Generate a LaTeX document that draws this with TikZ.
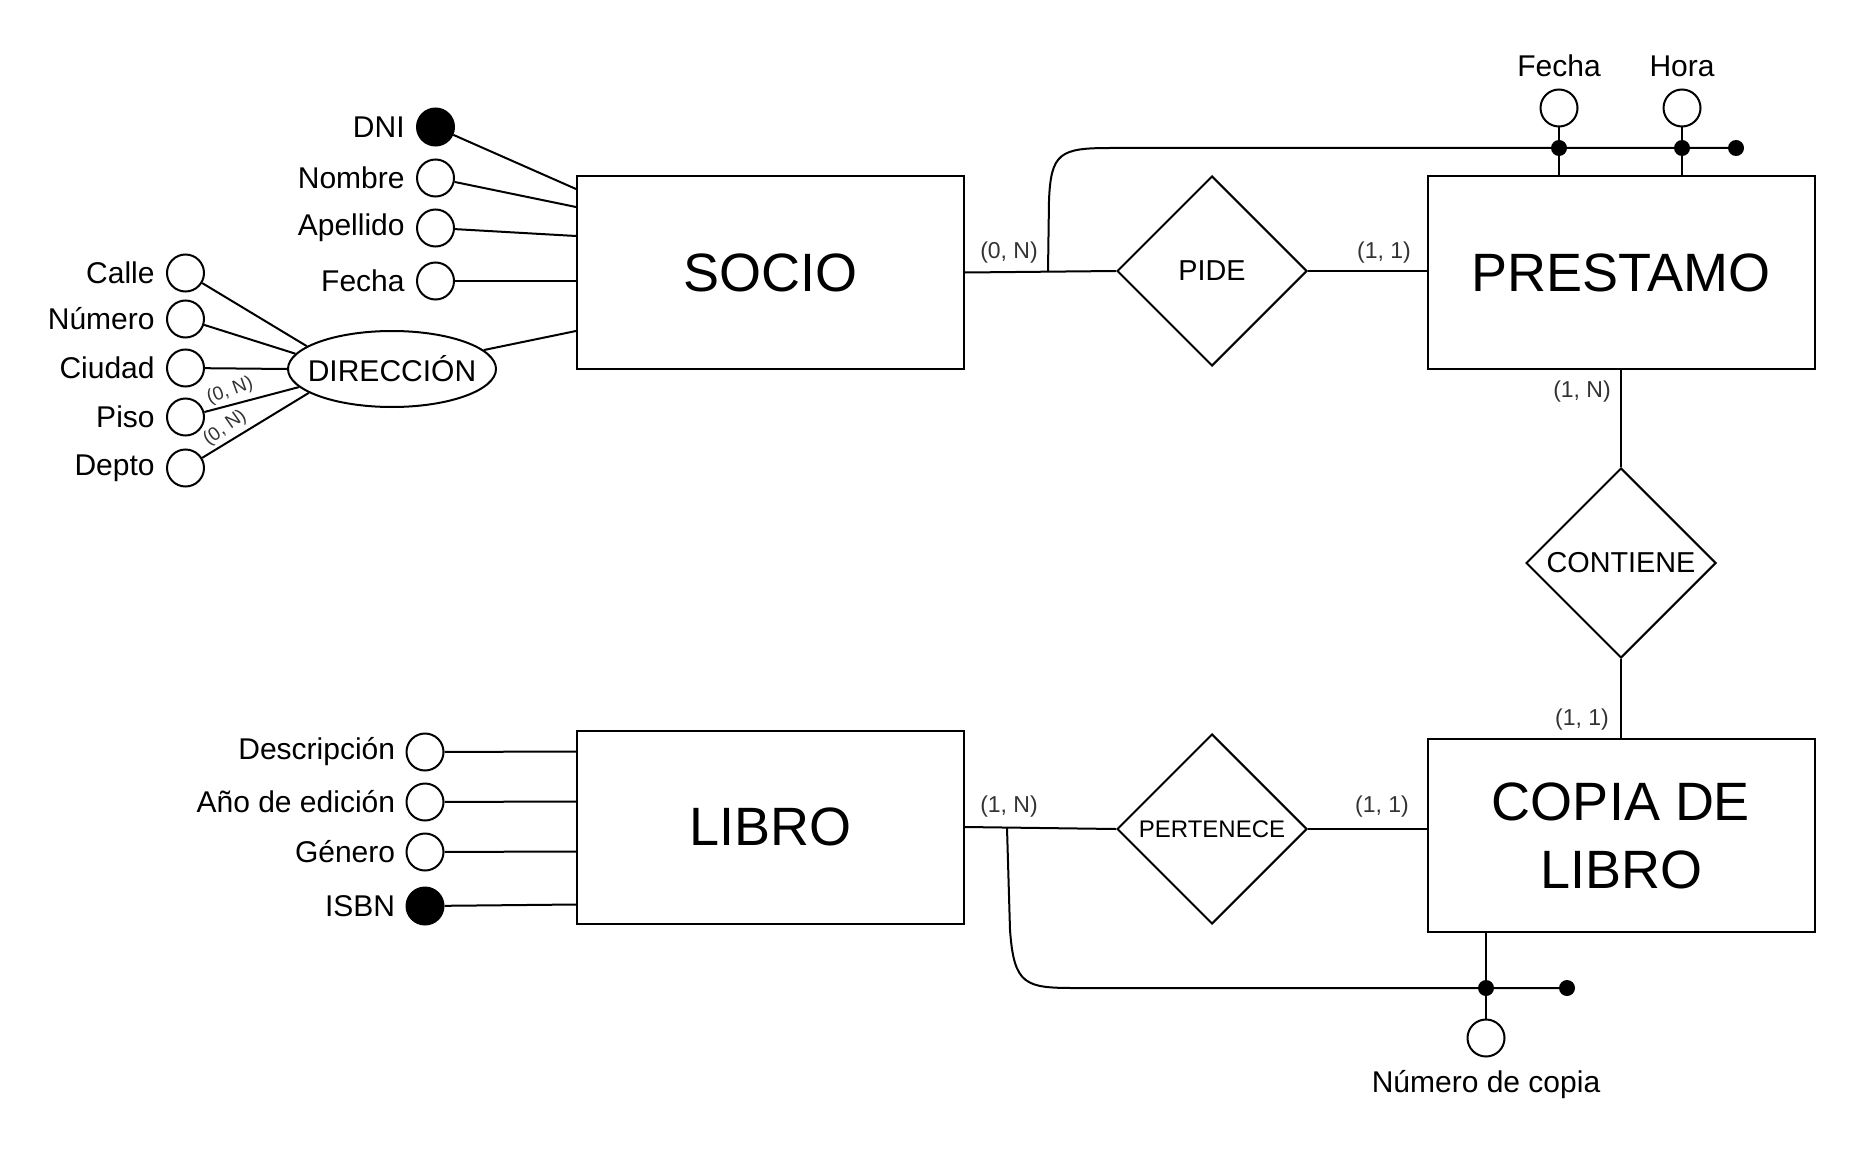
\documentclass[tikz,border=0pt]{standalone}
\usepackage{fontspec}
\setmainfont{Liberation Sans}
\usetikzlibrary{calc,positioning,shapes.geometric}
\tikzset{
  entity/.style={draw, line width=1pt, minimum width=193.5pt, minimum height=96.5pt,
    inner sep=0pt, align=center, font=\fontsize{27}{34}\selectfont},
  rel/.style={diamond, draw, line width=1pt, aspect=1, minimum width=95pt,
    minimum height=95pt, inner sep=0pt, font=\fontsize{14.4}{17}\selectfont},
  attr/.style={circle, draw, line width=1pt, minimum size=18.5pt, inner sep=0pt},
  keyattr/.style={attr, fill=black},
  dot/.style={circle, fill=black, minimum size=8pt, inner sep=0pt},
  compo/.style={ellipse, draw, line width=1pt, minimum width=104pt, minimum height=38pt, inner sep=0pt},
  lbl/.style={inner sep=0pt, font=\fontsize{15}{18}\selectfont},
  card/.style={inner sep=0pt, text=black!80, font=\fontsize{11.5}{14}\selectfont},
  smallcard/.style={inner sep=0pt, text=black!80, font=\fontsize{9.5}{11}\selectfont},
  link/.style={line width=1pt}
}

\begin{document}
\begin{tikzpicture}[x=0.5pt,y=-0.5pt]
\useasboundingbox (0,0) rectangle (1866,1150);
% entities and relationships
\node[entity] (socio) at (770.5,272.5) {SOCIO};
\node[entity] (prestamo) at (1621,272.5) {PRESTAMO};
\node[entity] (libro) at (770.5,827) {LIBRO};
\node[entity] (copia) at (1621,835.5) {COPIA DE\\LIBRO};
\node[rel] (pide) at (1212,271) {PIDE};
\node[rel] (contiene) at (1621,563) {CONTIENE};
\node[rel, font=\fontsize{12}{14}\selectfont] (pertenece) at (1212,829) {PERTENECE};
\draw[link] (socio.east) -- (pide.west);
\draw[link] (pide.east) -- (pide.east -| prestamo.west);
\draw[link] (prestamo.south) -- (contiene.north);
\draw[link] (contiene.south) -- (copia.north);
\draw[link] (libro.east) -- (pertenece.west);
\draw[link] (pertenece.east) -- (pertenece.east -| copia.west);
% cardinalities
\node[card] (cpide1) at (1009,253) {(0, N)};
\node[card] (cpide2) at (1384,253) {(1, 1)};
\node[card] (ccont1) at (1582,392) {(1, N)};
\node[card] (ccont2) at (1582,720) {(1, 1)};
\node[card] (cpert1) at (1009,807) {(1, N)};
\node[card] (cpert2) at (1382,807) {(1, 1)};

% SOCIO attributes
\node[keyattr] (dni) at (435.5,127) {};
\node[attr] (nombre) at (435.5,178) {};
\node[attr] (apellido) at (435.5,228) {};
\node[attr] (fechas) at (435.5,281) {};
\node[lbl, left=5.5pt of dni] (tdni) {DNI};
\node[lbl, left=5.5pt of nombre] (tnombre) {Nombre};
\node[lbl, left=5.5pt of apellido] (tapellido) {Apellido};
\node[lbl, left=5.5pt of fechas] (tfechas) {Fecha};
\draw[link] (dni) -- ($(socio.north west)+(0,14)$);
\draw[link] (nombre) -- ($(socio.north west)+(0,32)$);
\draw[link] (apellido) -- ($(socio.north west)+(0,61)$);
\draw[link] (fechas) -- (fechas -| socio.west);

% composite attribute
\node[compo, label={[lbl]center:DIRECCIÓN}] (dir) at (392,369) {};
\draw[link] (dir) -- ($(socio.north west)+(0,156)$);
\node[attr] (calle) at (185.5,273) {};
\node[attr] (numero) at (185.5,319) {};
\node[attr] (ciudad) at (185.5,368) {};
\node[attr] (piso) at (185.5,417) {};
\node[attr] (depto) at (185.5,468) {};
\node[lbl, left=5.5pt of calle] (tcalle) {Calle};
\node[lbl, left=5.5pt of numero] (tnumero) {Número};
\node[lbl, left=5.5pt of ciudad] (tciudad) {Ciudad};
\node[lbl, left=5.5pt of piso] (tpiso) {Piso};
\node[lbl, left=5.5pt of depto] (tdepto) {Depto};
\draw[link] (calle) -- (dir.165);
\draw[link] (numero) -- (dir.171);
\draw[link] (ciudad) -- (dir.180);
\draw[link] (piso) -- (dir.191);
\draw[link] (depto) -- (dir.196);
\node[smallcard, rotate=20] (cpiso) at (230,391) {(0, N)};
\node[smallcard, rotate=35] (cdepto) at (225,428) {(0, N)};

% LIBRO attributes
\node[attr] (desc) at (425,752) {};
\node[attr] (anio) at (425,802) {};
\node[attr] (genero) at (425,852) {};
\node[keyattr] (isbn) at (425,906) {};
\node[lbl, left=5pt of desc] (tdesc) {Descripción};
\node[lbl, left=5pt of anio] (tanio) {Año de edición};
\node[lbl, left=5pt of genero] (tgenero) {Género};
\node[lbl, left=5pt of isbn] (tisbn) {ISBN};
\draw[link] (desc) -- ($(libro.north west)+(0,22)$);
\draw[link] (anio) -- ($(libro.north west)+(0,72)$);
\draw[link] (genero) -- ($(libro.north west)+(0,122)$);
\draw[link] (isbn) -- ($(libro.north west)+(0,175)$);

% attributes of PIDE
\coordinate (jn1) at (1048,271);
\node[attr] (fechap) at (1559,108) {};
\node[attr] (hora) at (1682,108) {};
\node[lbl, above=5.5pt of fechap] (tfechap) {Fecha};
\node[lbl, above=5.5pt of hora] (thora) {Hora};
\coordinate (d1) at (1559,148);
\coordinate (d2) at (1682,148);
\coordinate (d3) at (1736,148);
\draw[link] (jn1) -- (1049,200) .. controls (1051,153) and (1060,148) .. (1110,148) -- (d3);
\draw[link] (fechap) -- (d1) -- (d1 |- prestamo.north);
\draw[link] (hora) -- (d2) -- (d2 |- prestamo.north);
\node[dot] (dot1) at (d1) {};
\node[dot] (dot2) at (d2) {};
\node[dot] (dot3) at (d3) {};

% attributes of PERTENECE
\coordinate (jn2) at (1007,828);
\node[attr] (numcopia) at (1486,1038) {};
\node[lbl, below=6pt of numcopia] (tnumcopia) {Número de copia};
\coordinate (d4) at (1486,988);
\coordinate (d5) at (1567,988);
\draw[link] (jn2) -- (1010,930) .. controls (1014,985) and (1025,988) .. (1075,988) -- (d5);
\draw[link] (d4 |- copia.south) -- (d4) -- (numcopia);
\node[dot] (dot4) at (d4) {};
\node[dot] (dot5) at (d5) {};
\end{tikzpicture}
\end{document}
